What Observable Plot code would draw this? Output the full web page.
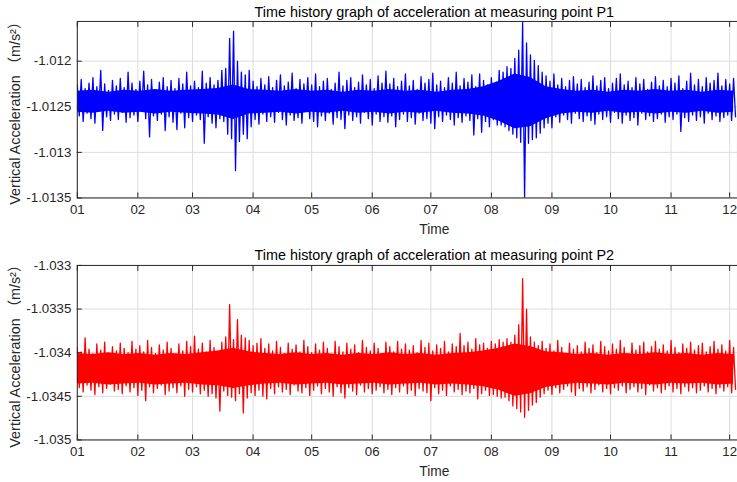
<!DOCTYPE html>
<html><head><meta charset="utf-8">
<script src="https://cdn.jsdelivr.net/npm/d3@7"></script>
<script src="https://cdn.jsdelivr.net/npm/@observablehq/plot@0.6"></script>
<style>
html,body{margin:0;padding:0;background:#fff;overflow:hidden;}
#chart svg{display:block;}
</style></head><body><div id="chart"></div>
<script>
// Envelope (max / min per 2-day bin), P1
const p1High = [
-1.01226,-1.01220,-1.01230,-1.01224,-1.01218,-1.01228,-1.01210,-1.01225,-1.01232,-1.01221,
-1.01227,-1.01219,-1.01229,-1.01212,-1.01224,-1.01231,-1.01222,-1.01211,-1.01226,-1.01220,
-1.01233,-1.01223,-1.01218,-1.01228,-1.01221,-1.01230,-1.01219,-1.01225,-1.01212,-1.01227,
-1.01222,-1.01229,-1.01211,-1.01224,-1.01218,-1.01226,-1.01221,-1.01210,-1.01208,-1.01175,
-1.01167,-1.01200,-1.01212,-1.01215,-1.01210,-1.01222,-1.01228,-1.01219,-1.01226,-1.01217,
-1.01229,-1.01221,-1.01215,-1.01227,-1.01223,-1.01213,-1.01230,-1.01220,-1.01225,-1.01218,
-1.01226,-1.01214,-1.01228,-1.01222,-1.01219,-1.01231,-1.01224,-1.01212,-1.01227,-1.01221,
-1.01218,-1.01229,-1.01223,-1.01215,-1.01226,-1.01220,-1.01230,-1.01216,-1.01224,-1.01211,
-1.01225,-1.01219,-1.01228,-1.01222,-1.01214,-1.01227,-1.01221,-1.01231,-1.01217,-1.01224,
-1.01220,-1.01213,-1.01226,-1.01222,-1.01229,-1.01218,-1.01224,-1.01212,-1.01227,-1.01219,
-1.01223,-1.01215,-1.01228,-1.01214,-1.01221,-1.01226,-1.01218,-1.01224,
-1.01210,-1.01212,-1.01206,-1.01208,-1.01197,-1.01188,-1.01157,-1.01180,-1.01193,-1.01199,-1.01205,-1.01212,-1.01216,
-1.01222,-1.01214,-1.01226,-1.01219,-1.01228,-1.01221,-1.01217,-1.01225,-1.01220,
-1.01229,-1.01223,-1.01216,-1.01227,-1.01221,-1.01218,-1.01230,-1.01224,-1.01219,-1.01214,
-1.01226,-1.01222,-1.01229,-1.01218,-1.01225,-1.01220,-1.01231,-1.01223,-1.01217,-1.01227,
-1.01221,-1.01228,-1.01219,-1.01224,-1.01216,-1.01230,-1.01222,-1.01213,-1.01226,-1.01220,
-1.01228,-1.01218,-1.01224,-1.01221,-1.01213,-1.01227,-1.01220,-1.01225,-1.01219
];
const p1Low = [
-1.01260,-1.01266,-1.01257,-1.01263,-1.01268,-1.01255,-1.01276,-1.01261,-1.01265,-1.01258,
-1.01264,-1.01256,-1.01267,-1.01262,-1.01259,-1.01266,-1.01254,-1.01263,-1.01283,-1.01260,
-1.01265,-1.01258,-1.01276,-1.01261,-1.01267,-1.01275,-1.01257,-1.01273,-1.01262,-1.01266,
-1.01259,-1.01264,-1.01290,-1.01261,-1.01268,-1.01273,-1.01263,-1.01266,-1.01280,-1.01285,
-1.01320,-1.01288,-1.01280,-1.01285,-1.01272,-1.01264,-1.01269,-1.01258,-1.01266,-1.01261,
-1.01267,-1.01256,-1.01264,-1.01270,-1.01259,-1.01265,-1.01262,-1.01268,-1.01255,-1.01263,
-1.01266,-1.01272,-1.01260,-1.01265,-1.01257,-1.01269,-1.01262,-1.01264,-1.01274,-1.01259,
-1.01265,-1.01261,-1.01268,-1.01256,-1.01263,-1.01270,-1.01258,-1.01266,-1.01261,-1.01267,
-1.01260,-1.01272,-1.01264,-1.01258,-1.01266,-1.01262,-1.01269,-1.01257,-1.01265,-1.01263,
-1.01268,-1.01274,-1.01261,-1.01266,-1.01259,-1.01264,-1.01270,-1.01262,-1.01267,-1.01260,
-1.01265,-1.01281,-1.01263,-1.01278,-1.01266,-1.01272,-1.01264,-1.01270,
-1.01270,-1.01272,-1.01276,-1.01280,-1.01284,-1.01289,-1.01350,-1.01290,-1.01286,-1.01284,-1.01279,-1.01273,-1.01268,
-1.01273,-1.01261,-1.01267,-1.01259,-1.01264,-1.01268,-1.01257,-1.01263,-1.01266,
-1.01260,-1.01265,-1.01269,-1.01258,-1.01264,-1.01261,-1.01267,-1.01256,-1.01263,-1.01268,
-1.01259,-1.01265,-1.01262,-1.01270,-1.01257,-1.01264,-1.01260,-1.01266,-1.01263,-1.01258,
-1.01267,-1.01261,-1.01264,-1.01258,-1.01277,-1.01262,-1.01266,-1.01259,-1.01265,-1.01261,
-1.01268,-1.01257,-1.01264,-1.01260,-1.01266,-1.01262,-1.01259,-1.01265,-1.01261
];
// Dense core of the P1 band, every 8 days
const p1CoreTop = [
-1.01233,-1.01232,-1.01234,-1.01232,-1.01233,-1.01231,-1.01233,-1.01232,-1.01231,-1.01230,
-1.01226,-1.01231,-1.01232,-1.01233,-1.01231,-1.01233,-1.01232,-1.01234,-1.01232,-1.01233,
-1.01231,-1.01233,-1.01232,-1.01234,-1.01232,-1.01231,-1.01228,-1.01222,-1.01214,-1.01218,
-1.01228,-1.01231,-1.01233,-1.01232,-1.01234,-1.01232,-1.01233,-1.01231,-1.01233,-1.01232,
-1.01234,-1.01232,-1.01233
];
const p1CoreBottom = [
-1.01256,-1.01257,-1.01255,-1.01257,-1.01256,-1.01258,-1.01256,-1.01257,-1.01258,-1.01259,
-1.01264,-1.01258,-1.01257,-1.01256,-1.01258,-1.01256,-1.01257,-1.01255,-1.01257,-1.01256,
-1.01258,-1.01256,-1.01257,-1.01255,-1.01257,-1.01258,-1.01260,-1.01266,-1.01274,-1.01272,
-1.01263,-1.01258,-1.01256,-1.01257,-1.01255,-1.01257,-1.01256,-1.01258,-1.01256,-1.01257,
-1.01255,-1.01257,-1.01256
];
// P2
const p2High = [
-1.03394,-1.03399,-1.03383,-1.03396,-1.03401,-1.03390,-1.03397,-1.03388,-1.03402,-1.03393,
-1.03398,-1.03389,-1.03395,-1.03400,-1.03387,-1.03396,-1.03392,-1.03399,-1.03386,-1.03394,
-1.03401,-1.03391,-1.03397,-1.03388,-1.03395,-1.03402,-1.03390,-1.03398,-1.03387,-1.03393,
-1.03381,-1.03396,-1.03389,-1.03399,-1.03386,-1.03394,-1.03400,-1.03388,-1.03382,-1.03345,
-1.03385,-1.03362,-1.03380,-1.03383,-1.03386,-1.03392,-1.03389,-1.03384,-1.03395,-1.03390,
-1.03398,-1.03387,-1.03394,-1.03401,-1.03389,-1.03396,-1.03391,-1.03399,-1.03386,-1.03393,
-1.03400,-1.03390,-1.03397,-1.03388,-1.03395,-1.03402,-1.03387,-1.03393,-1.03399,-1.03389,
-1.03396,-1.03391,-1.03400,-1.03386,-1.03394,-1.03398,-1.03389,-1.03395,-1.03401,-1.03388,
-1.03393,-1.03399,-1.03387,-1.03396,-1.03390,-1.03397,-1.03392,-1.03400,-1.03386,-1.03394,
-1.03389,-1.03398,-1.03391,-1.03395,-1.03387,-1.03399,-1.03390,-1.03393,-1.03378,-1.03392,
-1.03388,-1.03396,-1.03384,-1.03391,-1.03389,-1.03395,-1.03387,-1.03390,-1.03385,-1.03388,
-1.03384,-1.03388,-1.03380,-1.03368,-1.03315,-1.03350,-1.03382,-1.03388,-1.03392,-1.03387,
-1.03395,-1.03390,-1.03398,-1.03386,-1.03394,-1.03401,-1.03389,-1.03396,-1.03392,-1.03399,
-1.03388,-1.03395,-1.03391,-1.03400,-1.03387,-1.03393,-1.03398,-1.03390,-1.03396,-1.03386,
-1.03394,-1.03401,-1.03389,-1.03397,-1.03392,-1.03388,-1.03399,-1.03393,-1.03387,-1.03396,
-1.03391,-1.03398,-1.03386,-1.03394,-1.03400,-1.03390,-1.03395,-1.03388,-1.03397,-1.03392,
-1.03389,-1.03399,-1.03393,-1.03387,-1.03396,-1.03391,-1.03398,-1.03386,-1.03394
];
const p2Low = [
-1.03440,-1.03445,-1.03437,-1.03443,-1.03448,-1.03439,-1.03446,-1.03441,-1.03436,-1.03444,
-1.03442,-1.03447,-1.03438,-1.03445,-1.03440,-1.03449,-1.03443,-1.03455,-1.03439,-1.03446,
-1.03441,-1.03437,-1.03448,-1.03444,-1.03440,-1.03446,-1.03438,-1.03450,-1.03442,-1.03445,
-1.03439,-1.03447,-1.03443,-1.03450,-1.03447,-1.03452,-1.03467,-1.03444,-1.03449,-1.03451,
-1.03455,-1.03447,-1.03469,-1.03452,-1.03446,-1.03449,-1.03443,-1.03450,-1.03453,-1.03441,
-1.03447,-1.03439,-1.03445,-1.03442,-1.03448,-1.03437,-1.03444,-1.03446,-1.03440,-1.03449,
-1.03443,-1.03438,-1.03447,-1.03441,-1.03445,-1.03450,-1.03439,-1.03446,-1.03452,-1.03440,
-1.03444,-1.03448,-1.03437,-1.03445,-1.03441,-1.03447,-1.03443,-1.03439,-1.03446,-1.03442,
-1.03448,-1.03440,-1.03445,-1.03438,-1.03447,-1.03443,-1.03449,-1.03441,-1.03444,-1.03446,
-1.03455,-1.03440,-1.03447,-1.03443,-1.03449,-1.03438,-1.03445,-1.03442,-1.03448,-1.03444,
-1.03446,-1.03441,-1.03453,-1.03447,-1.03443,-1.03449,-1.03448,-1.03450,-1.03452,-1.03451,
-1.03455,-1.03461,-1.03464,-1.03468,-1.03474,-1.03466,-1.03460,-1.03457,-1.03451,-1.03447,
-1.03443,-1.03448,-1.03440,-1.03446,-1.03442,-1.03438,-1.03445,-1.03449,-1.03441,-1.03444,
-1.03439,-1.03446,-1.03442,-1.03437,-1.03445,-1.03441,-1.03447,-1.03440,-1.03443,-1.03438,
-1.03446,-1.03442,-1.03439,-1.03445,-1.03441,-1.03448,-1.03437,-1.03444,-1.03440,-1.03446,
-1.03442,-1.03438,-1.03445,-1.03441,-1.03447,-1.03439,-1.03444,-1.03440,-1.03446,-1.03443,
-1.03438,-1.03445,-1.03441,-1.03447,-1.03440,-1.03444,-1.03439,-1.03446,-1.03442
];
const p2CoreTop = [
-1.03401,-1.03402,-1.03400,-1.03402,-1.03401,-1.03403,-1.03401,-1.03402,-1.03400,-1.03398,
-1.03395,-1.03399,-1.03401,-1.03402,-1.03400,-1.03402,-1.03401,-1.03403,-1.03401,-1.03402,
-1.03400,-1.03402,-1.03401,-1.03403,-1.03401,-1.03400,-1.03398,-1.03395,-1.03390,-1.03393,
-1.03399,-1.03400,-1.03402,-1.03401,-1.03403,-1.03401,-1.03402,-1.03400,-1.03402,-1.03401,
-1.03403,-1.03401,-1.03402
];
const p2CoreBottom = [
-1.03436,-1.03435,-1.03437,-1.03436,-1.03435,-1.03437,-1.03436,-1.03435,-1.03437,-1.03438,
-1.03441,-1.03438,-1.03436,-1.03435,-1.03437,-1.03436,-1.03435,-1.03437,-1.03436,-1.03435,
-1.03437,-1.03436,-1.03435,-1.03437,-1.03436,-1.03437,-1.03439,-1.03443,-1.03450,-1.03447,
-1.03440,-1.03437,-1.03435,-1.03436,-1.03437,-1.03435,-1.03436,-1.03437,-1.03435,-1.03436,
-1.03435,-1.03437,-1.03436
];
const monthLabels = ["01","02","03","04","05","06","07","08","09","10","11","12"];
const p1Ticks = [-1.012, -1.0125, -1.013, -1.0135];
const p2Ticks = [-1.033, -1.0335, -1.034, -1.0345, -1.035];
const p1Title = "Time history graph of acceleration at measuring point P1";
const p2Title = "Time history graph of acceleration at measuring point P2";
const yLabel = "Vertical Acceleration （m/s²）";
const xLabel = "Time";

const start = Date.UTC(2021, 0, 1), end = Date.UTC(2021, 11, 5), DAY = 864e5;
function series(hi, lo) {
  const rows = [];
  hi.forEach((h, i) => {
    rows.push({t: new Date(start + 2 * i * DAY), v: h});
    rows.push({t: new Date(start + (2 * i + 1) * DAY), v: lo[i]});
  });
  return rows;
}
function core(top, bottom) {
  return top.map((v, k) => ({t: new Date(start + 8 * k * DAY), top: v, bottom: bottom[k]}));
}
const monthTicks = d3.utcMonths(new Date(start), new Date(end));
const font = "'Liberation Sans', Arial, 'Noto Sans CJK SC', sans-serif";

function panel({rows, band, color, yDomain, yTicks, title, height, marginTop, marginBottom, titleDy}) {
  return Plot.plot({
    width: 739, height, marginLeft: 77, marginRight: 0, marginTop, marginBottom,
    style: {fontFamily: font, fontSize: "13.3px", color: "#262626", background: "#fff"},
    x: {type: "utc", domain: [new Date(start), new Date(end)], label: null},
    y: {domain: yDomain, label: null},
    marks: [
      Plot.gridX(monthTicks, {stroke: "#dcdcdc", strokeOpacity: 1}),
      Plot.gridY(yTicks, {stroke: "#dcdcdc", strokeOpacity: 1}),
      Plot.areaY(band, {x: "t", y1: "bottom", y2: "top", fill: color, clip: true}),
      Plot.line(rows, {x: "t", y: "v", stroke: color, strokeWidth: 1.3, clip: true}),
      Plot.frame({stroke: "#262626"}),
      Plot.axisX(monthTicks, {anchor: "top", tickSize: -5, tickFormat: () => "", label: null, stroke: "#262626"}),
      Plot.axisX(monthTicks, {anchor: "bottom", tickSize: -5, tickFormat: () => "", label: null, stroke: "#262626"}),
      Plot.axisX(monthTicks, {anchor: "bottom", tickSize: 0, tickPadding: 7, fontSize: 13.3, tickFormat: d => monthLabels[d.getUTCMonth()], label: null, fill: "#262626"}),
      Plot.axisY(yTicks, {anchor: "left", tickSize: -5, tickFormat: () => "", label: null, stroke: "#262626"}),
      Plot.axisY(yTicks, {anchor: "left", tickSize: 0, tickPadding: 6, fontSize: 13.3, tickFormat: d => String(d), label: null, fill: "#262626"}),
      Plot.text([title], {text: d => d, frameAnchor: "top", dx: 27, dy: titleDy, fontSize: 14.4, fill: "#000"}),
      Plot.text([xLabel], {text: d => d, frameAnchor: "bottom", dx: 27, dy: 36, fontSize: 13.8, fill: "#262626"}),
      Plot.text([yLabel], {text: d => d, frameAnchor: "left", textAnchor: "middle", rotate: -90, dx: -62, fontSize: 14.4, fill: "#262626"})
    ]
  });
}

const chart = document.getElementById("chart");
chart.append(panel({rows: series(p1High, p1Low), band: core(p1CoreTop, p1CoreBottom), color: "#0000ff", yDomain: [-1.0135, -1.011564], yTicks: p1Ticks, title: p1Title, height: 243, marginTop: 21, marginBottom: 45, titleDy: -15}));
chart.append(panel({rows: series(p2High, p2Low), band: core(p2CoreTop, p2CoreBottom), color: "#ff0000", yDomain: [-1.035, -1.033], yTicks: p2Ticks, title: p2Title, height: 239, marginTop: 23, marginBottom: 41, titleDy: -16}));
</script></body></html>
